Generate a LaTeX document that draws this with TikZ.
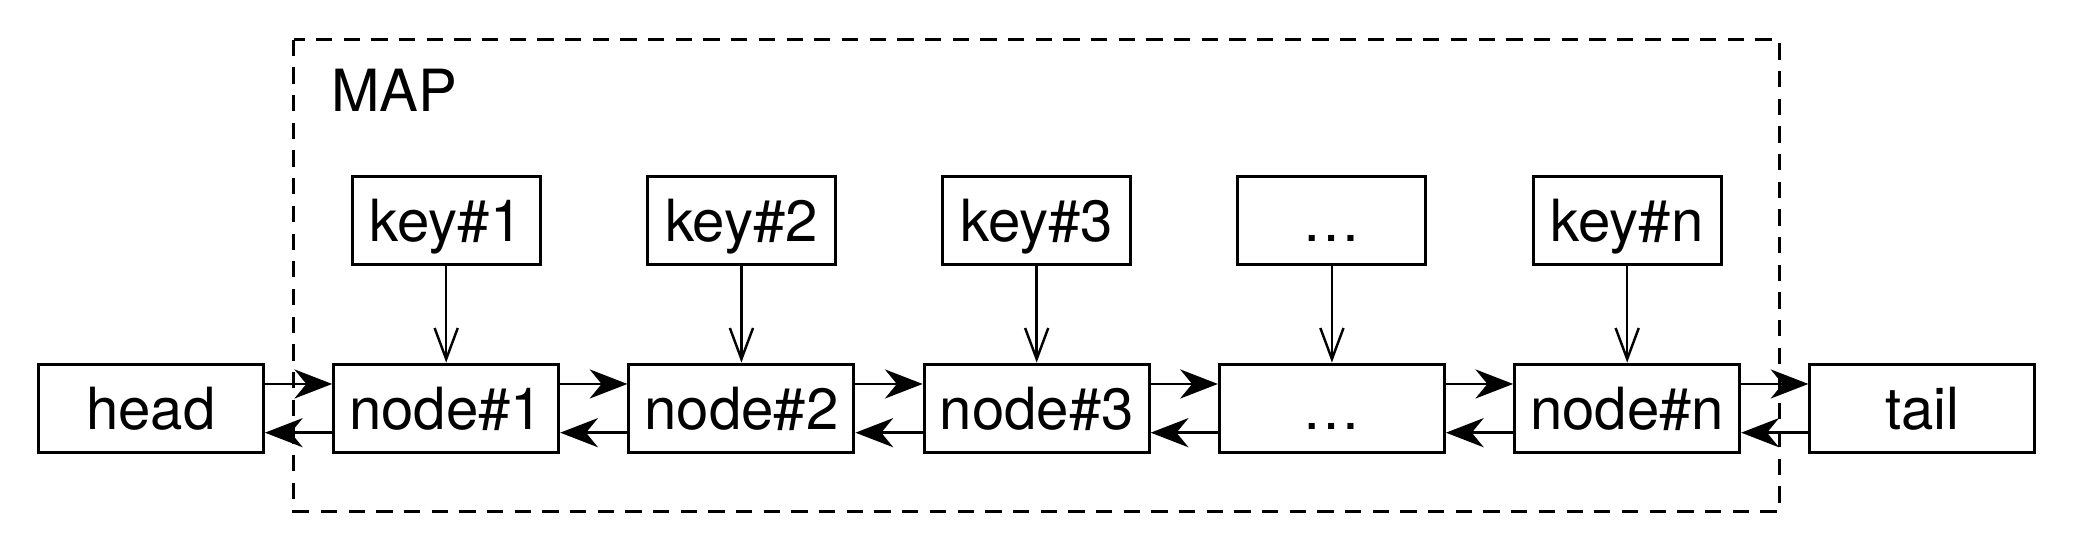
\documentclass[tikz,border=0pt]{standalone}
\usepackage{fontspec}
\setmainfont{TeX Gyre Heros}
\usetikzlibrary{arrows.meta}
\begin{document}
\begin{tikzpicture}[x=0.02cm,y=-0.02cm,
  every node/.style={font=\fontsize{25}{30}\selectfont},
  box/.style={draw,line width=1.3pt,minimum height=1.34cm,inner sep=0pt,text height=18.5pt,text depth=0pt},
  nodebox/.style={box,minimum width=3.4cm},
  keybox/.style={box,minimum width=2.84cm},
  fwd/.style={line width=1.05pt,-{Stealth[length=0.57cm,width=0.44cm,inset=0.18cm]}},
  keyarrow/.style={line width=1.05pt,-{Straight Barb[length=0.47cm,width=0.35cm]}},
  frame/.style={line width=1.3pt,dash pattern=on 7pt off 4.9pt}
]
\useasboundingbox (0,0) rectangle (1568,417);
\draw[frame] (222,30) rectangle (1344,386);
\node[anchor=base west,inner sep=0pt] (map) at (250,84) {MAP};

\node[nodebox] (head) at (114,308.5) {head};
\node[nodebox] (n1) at (337,308.5) {node\#1};
\node[nodebox] (n2) at (560,308.5) {node\#2};
\node[nodebox] (n3) at (783,308.5) {node\#3};
\node[nodebox] (nd) at (1006,308.5) {…};
\node[nodebox] (nn) at (1229,308.5) {node\#n};
\node[nodebox] (tail) at (1452,308.5) {tail};

\node[keybox] (k1) at (337,166.5) {key\#1};
\node[keybox] (k2) at (560,166.5) {key\#2};
\node[keybox] (k3) at (783,166.5) {key\#3};
\node[keybox] (kd) at (1006,166.5) {…};
\node[keybox] (kn) at (1229,166.5) {key\#n};

\foreach \k/\n in {k1/n1,k2/n2,k3/n3,kd/nd,kn/nn}
  \draw[keyarrow] (\k.south) -- (\n.north);

\foreach \a/\b in {head/n1,n1/n2,n2/n3,n3/nd,nd/nn,nn/tail}{
  \draw[fwd] ([yshift=0.37cm]\a.east) -- ([yshift=0.37cm]\b.west);
  \draw[fwd] ([yshift=-0.366cm]\b.west) -- ([yshift=-0.366cm]\a.east);
}
\end{tikzpicture}
\end{document}
